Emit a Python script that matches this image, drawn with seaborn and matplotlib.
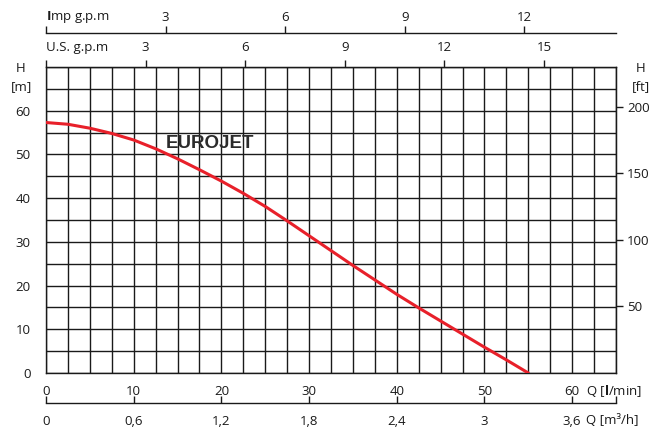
import numpy as np
import pandas as pd
import matplotlib.pyplot as plt
import seaborn as sns
from matplotlib.ticker import MultipleLocator

# pump curve (Q in l/min, H in m)
flow_lpm = [0, 2.5, 5, 7.5, 10, 12.5, 15, 17.5, 20, 22.5, 25, 27.5,
            30, 32.5, 35, 37.5, 40, 42.5, 45, 47.5, 50, 52.5, 55]
head_m = [57.3, 56.9, 56.0, 54.8, 53.3, 51.3, 49.0, 46.5, 43.9, 41.1, 38.1, 34.8,
          31.4, 28.0, 24.6, 21.3, 18.0, 14.9, 11.9, 8.9, 5.9, 3.0, 0.0]

lpm_ticks = [0, 10, 20, 30, 40, 50, 60]
m3h_ticks = [0, 0.6, 1.2, 1.8, 2.4, 3, 3.6]
m3h_labels = ["0", "0,6", "1,2", "1,8", "2,4", "3", "3,6"]
us_ticks = [0, 3, 6, 9, 12, 15]
imp_ticks = [0, 3, 6, 9, 12]
ft_ticks = [50, 100, 150, 200]
m_ticks = [0, 10, 20, 30, 40, 50, 60]

df = pd.DataFrame({"Q": flow_lpm, "H": head_m})

sns.set_style("white")
plt.rcParams["font.family"] = ["Open Sans", "DejaVu Sans"]
plt.rcParams["mathtext.fontset"] = "custom"
plt.rcParams["mathtext.rm"] = "Open Sans"
plt.rcParams["mathtext.bf"] = "Open Sans:bold"
plt.rcParams["font.size"] = 9.5

US_GAL = 3.785
IMP_GAL = 4.546
FT = 0.3048

fig = plt.figure(figsize=(6.62, 4.30), dpi=100)
ax = fig.add_axes([46 / 662, 57 / 430, 570 / 662, 306 / 430])

sns.lineplot(data=df, x="Q", y="H", ax=ax, color="#e8202a", linewidth=2.2, zorder=5)

ax.set_xlim(0, 65)
ax.set_ylim(0, 70)
ax.set_xlabel("")
ax.set_ylabel("")

# grid every 2.5 l/min and 5 m
ax.xaxis.set_minor_locator(MultipleLocator(2.5))
ax.yaxis.set_minor_locator(MultipleLocator(5))
ax.set_xticks(np.arange(0, 66, 5))
ax.set_xticklabels([str(int(v)) if v in lpm_ticks else "" for v in np.arange(0, 66, 5)])
ax.set_yticks(np.arange(0, 71, 10))
ax.set_yticklabels([str(v) if v in m_ticks else "" for v in np.arange(0, 71, 10)])
ax.grid(True, which="both", color="#1a1a1a", linewidth=1.0)
ax.tick_params(which="minor", length=0)
ax.tick_params(axis="x", which="major", direction="out", length=5, width=1, pad=3.5, colors="#1a1a1a")
ax.tick_params(axis="y", which="major", direction="out", length=5, width=1, pad=6, colors="#1a1a1a")
for s in ax.spines.values():
    s.set_visible(True)
    s.set_color("#1a1a1a")
    s.set_linewidth(1.0)

# right axis in feet
sec_ft = ax.secondary_yaxis("right", functions=(lambda m: m / FT, lambda f: f * FT))
sec_ft.set_yticks(ft_ticks)
sec_ft.tick_params(direction="out", length=5, width=1, pad=3, colors="#1a1a1a")
sec_ft.spines["right"].set_color("#1a1a1a")

# top axis: US gpm
sec_us = ax.secondary_xaxis("top", functions=(lambda q: q / US_GAL, lambda g: g * US_GAL))
sec_us.set_xticks(us_ticks)
sec_us.set_xticklabels([""] + [str(v) for v in us_ticks[1:]])
sec_us.tick_params(direction="out", length=5, width=1, pad=4, colors="#1a1a1a")
sec_us.spines["top"].set_color("#1a1a1a")

# upper axis: Imp gpm
sec_imp = ax.secondary_xaxis(1.11, functions=(lambda q: q / IMP_GAL, lambda g: g * IMP_GAL))
sec_imp.set_xticks(imp_ticks)
sec_imp.set_xticklabels([""] + [str(v) for v in imp_ticks[1:]])
sec_imp.tick_params(direction="out", length=5, width=1, pad=2, colors="#1a1a1a")
sec_imp.spines["top"].set_color("#1a1a1a")
sec_imp.spines["top"].set_linewidth(1.0)

# lower axis: m3/h
sec_m3 = ax.secondary_xaxis(-0.098, functions=(lambda q: q * 0.06, lambda v: v / 0.06))
sec_m3.set_xticks(m3h_ticks + [3.9])
sec_m3.set_xticklabels(m3h_labels + [""])
sec_m3.tick_params(direction="in", length=5, width=1, pad=9, colors="#1a1a1a")
sec_m3.spines["bottom"].set_color("#1a1a1a")
sec_m3.spines["bottom"].set_linewidth(1.0)

ax.text(13.6, 52.4, "EUROJET", fontsize=13.5, fontweight="bold", color="#2b2b2b",
        family=["Liberation Sans", "DejaVu Sans"], ha="left", va="center", zorder=6)

def ftext(x, y, s, **kw):
    fig.text(x / 662, 1 - y / 430, s, color="#1a1a1a", **kw)

ftext(46, 17, r"$\mathbf{I}$mp g.p.m", ha="left", va="center")
ftext(46, 47, "U.S. g.p.m", ha="left", va="center")
ftext(21, 68, "H", ha="center", va="center")
ftext(21, 87, "[m]", ha="center", va="center")
ftext(641, 68, "H", ha="center", va="center")
ftext(641, 87, "[ft]", ha="center", va="center")
ftext(586, 391, r"Q [$\mathbf{l}$/min]", ha="left", va="center")
ftext(586, 420, "Q [m\u00b3/h]", ha="left", va="center")

fig.savefig("out.png", dpi=100)
